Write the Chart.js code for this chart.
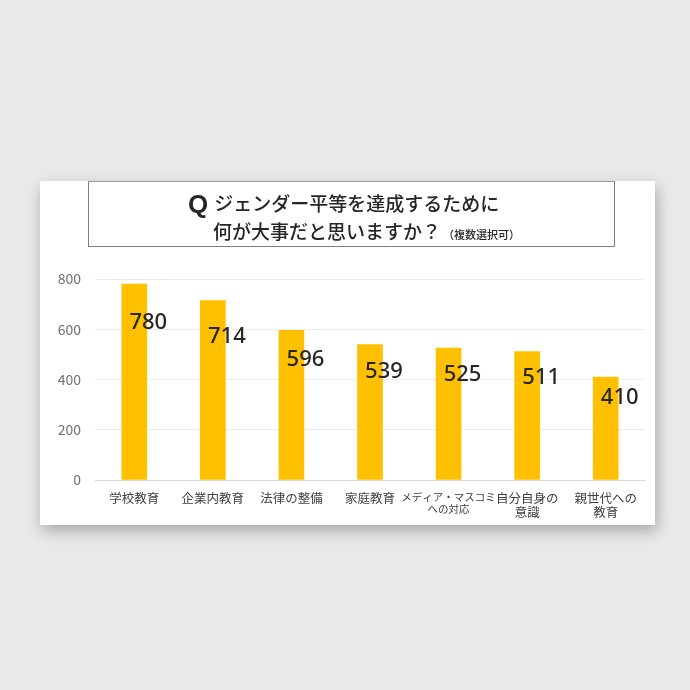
<!DOCTYPE html>
<html>
<head>
<meta charset="utf-8">
<script src="https://cdn.jsdelivr.net/npm/chart.js@4"></script>
<style>
  html, body { margin: 0; padding: 0; }
  body { width: 690px; height: 690px; background: #e9e9e9; position: relative; overflow: hidden;
         font-family: "Noto Sans CJK JP", sans-serif; }
  #card { position: absolute; left: 40px; top: 181px; width: 615px; height: 344px; background: #fff;
          box-shadow: 2px 6px 14px rgba(0,0,0,0.28); }
  #title { position: absolute; left: 48px; top: 0px; width: 527px; height: 66px; border: 1px solid #7f7f7f;
           border-top: 1px solid #9a9a9a; box-sizing: border-box; color: #262626; }
  #title .l1 { position: absolute; left: 99px; top: 7px; font-size: 19px; font-weight: 500; white-space: nowrap; }
  #title .q { font-size: 26px; font-weight: 700; font-family: "Liberation Sans", Arial, sans-serif; margin-right: 6px; vertical-align: -2px; }
  #title .l2 { position: absolute; left: 124px; top: 35px; font-size: 19px; font-weight: 500; white-space: nowrap; }
  #title .small { font-size: 11px; margin-left: 2px; }
  canvas { position: absolute; left: 0; top: 0; }
</style>
</head>
<body>
<div id="card">
  <canvas id="myChart" width="615" height="344"></canvas>
  <div id="title">
    <div class="l1"><span class="q">Q</span>ジェンダー平等を達成するために</div>
    <div class="l2">何が大事だと思いますか？<span class="small">（複数選択可）</span></div>
  </div>
</div>
<script>
var labels = [
  "学校教育",
  "企業内教育",
  "法律の整備",
  "家庭教育",
  ["メディア・マスコミ", "への対応"],
  ["自分自身の", "意識"],
  ["親世代への", "教育"],
];
var counts = [780, 714, 596, 539, 525, 511, 410];
var yTicks = [0, 200, 400, 600, 800];

var valueLabels = {
  id: "valueLabels",
  afterDatasetsDraw: function (chart) {
    var ctx = chart.ctx;
    var meta = chart.getDatasetMeta(0);
    var y = chart.scales.y;
    ctx.save();
    ctx.font = "500 22px 'Noto Sans', sans-serif";
    ctx.fillStyle = "#262626";
    ctx.textAlign = "center";
    ctx.textBaseline = "middle";
    meta.data.forEach(function (bar, i) {
      ctx.fillText(String(counts[i]), bar.x + 14, y.getPixelForValue(counts[i] * 0.8));
    });
    ctx.restore();
  },
};

var ctx = document.getElementById("myChart").getContext("2d");
var myChart = new Chart(ctx, {
  type: "bar",
  data: {
    labels: labels,
    datasets: [
      {
        label: "回答数",
        data: counts,
        backgroundColor: "#FFC000",
        barThickness: 25,
      },
    ],
  },
  options: {
    responsive: false,
    animation: false,
    layout: { padding: { top: 98, right: 10, left: 0, bottom: 0 } },
    plugins: { legend: { display: false }, tooltip: { enabled: false } },
    scales: {
      x: {
        grid: { display: false },
        border: { color: "#d9d9d9" },
        ticks: {
          color: "#404040",
          font: function (c) {
            var long = c.index === 4;
            return { family: "'Noto Sans CJK JP'", size: long ? 10.5 : 12.5, lineHeight: 1.15 };
          },
          maxRotation: 0,
          autoSkip: false,
          padding: 3,
        },
        afterFit: function (s) { s.height = 45; },
      },
      y: {
        min: 0,
        max: 800,
        afterBuildTicks: function (s) { s.ticks = yTicks.map(function (v) { return { value: v }; }); },
        grid: { color: "#ececec", drawTicks: false },
        border: { display: false },
        ticks: {
          color: "#707070",
          font: { family: "'Noto Sans CJK JP'", size: 14 },
          padding: 14,
        },
        afterFit: function (s) { s.width = 55; },
      },
    },
  },
  plugins: [valueLabels],
});
</script>
</body>
</html>
